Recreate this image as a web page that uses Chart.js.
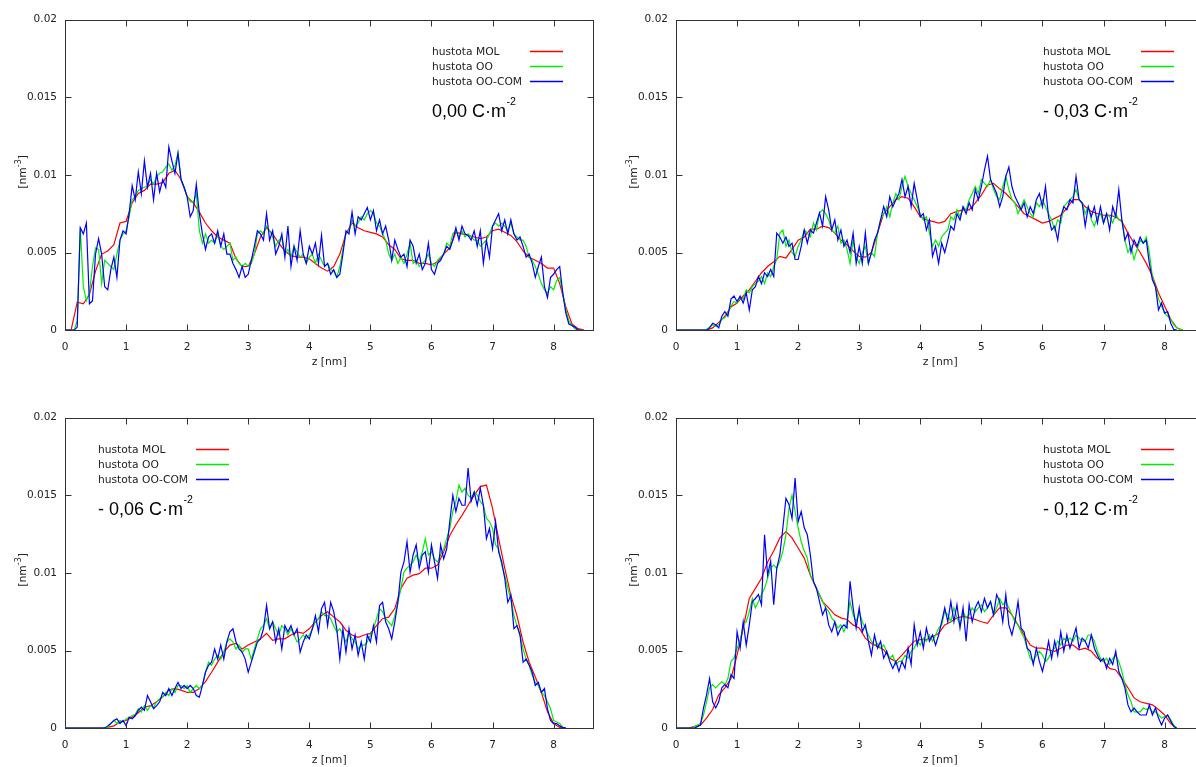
<!DOCTYPE html>
<html lang="cs">
<head>
<meta charset="utf-8">
<title>Hustota – profily podél z</title>
<script src="https://cdn.jsdelivr.net/npm/chart.js@4.4.1/dist/chart.umd.min.js"></script>
<style>
  html, body { margin: 0; padding: 0; background: #fff; overflow: hidden; }
  body { width: 1196px; height: 767px; position: relative; }
  .panel { position: absolute; width: 611px; height: 398px; }
  .panel canvas { display: block; }
</style>
</head>
<body>
<div class="panel" style="left:0;top:0"><canvas id="c000" width="611" height="398"></canvas></div>
<div class="panel" style="left:611px;top:0"><canvas id="c003" width="611" height="398"></canvas></div>
<div class="panel" style="left:0;top:398px"><canvas id="c006" width="611" height="398"></canvas></div>
<div class="panel" style="left:611px;top:398px"><canvas id="c012" width="611" height="398"></canvas></div>
<script>
// Density profiles along z, values in 10^-3 nm^-3.
// MOL profiles are sampled every 0.1 nm, OO and OO-COM every 0.05 nm, all starting at z = 0.
const MOL_STEP = 0.1;
const OO_STEP = 0.05;

const seriesNames = ['hustota MOL', 'hustota OO', 'hustota OO-COM'];
const seriesColors = ['#ff0000', '#00ee00', '#0000ff'];
const charges = ['0,00', '- 0,03', '- 0,06', '- 0,12'];
const yTickLabels = ['0', '0.005', '0.01', '0.015', '0.02'];
const zMax = 8.65;

// ---- 0,00 C·m-2 ----
const mol000 = [
  0, 0, 1.8, 1.7, 2.3, 3.8, 4.9, 5.1, 5.5, 6.9,
  7.0, 8.2, 8.8, 9.0, 9.4, 9.4, 9.5, 10.1, 10.3, 9.7,
  8.6, 8.2, 7.6, 6.9, 6.4, 6.0, 5.8, 5.6, 4.6, 4.1,
  4.1, 4.9, 6.0, 6.6, 6.2, 5.6, 5.1, 4.8, 4.7, 4.7,
  4.6, 4.3, 4.0, 3.8, 4.1, 4.9, 6.2, 6.9, 6.6, 6.4,
  6.3, 6.2, 6.0, 5.5, 5.2, 4.6, 4.5, 4.5, 4.3, 4.3,
  4.2, 4.4, 4.9, 5.3, 6.3, 6.2, 6.1, 6.0, 5.9, 6.0,
  6.4, 6.5, 6.3, 6.1, 5.7, 5.1, 4.7, 4.5, 4.3, 4.0,
  4.0, 3.0, 1.5, 0.4, 0.1, 0
];
const oo000 = [
  0, 0, 0, 0, 0.6, 6.6, 2.8, 1.9, 2.4, 4.1, 5.3, 5.2, 3.0, 4.5, 4.3, 4.1, 3.9, 4.9, 5.8, 6.2,
  6.4, 7.3, 8.4, 8.6, 9.0, 9.1, 9.2, 9.3, 9.7, 9.4, 9.9, 10.1, 10.2, 10.5, 10.7, 10.3, 10.6, 11.4, 9.7, 9.2,
  8.6, 8.3, 8.2, 8.8, 6.4, 5.6, 6.2, 5.6, 5.8, 5.6, 6.2, 5.4, 5.2, 5.4, 5.6, 4.5, 4.7, 4.3, 4.1, 4.3,
  4.1, 4.3, 4.9, 6.2, 6.4, 6.2, 6.7, 6.4, 6.0, 5.4, 5.8, 5.9, 4.9, 5.2, 4.7, 5.4, 5.0, 4.7, 4.9, 4.3,
  4.7, 4.9, 4.3, 4.9, 4.5, 4.1, 4.3, 3.9, 3.8, 3.4, 4.1, 5.2, 6.2, 6.4, 7.1, 6.7, 6.9, 7.3, 7.1, 7.5,
  7.7, 7.5, 6.9, 6.7, 6.2, 5.8, 4.9, 4.5, 4.9, 4.3, 4.7, 4.3, 4.9, 5.6, 4.3, 4.5, 4.1, 4.3, 4.5, 4.9,
  4.3, 4.1, 4.5, 4.7, 4.9, 5.6, 5.4, 6.2, 6.4, 6.0, 6.4, 6.0, 6.2, 6.0, 5.8, 5.8, 5.4, 5.6, 5.8, 6.2,
  6.7, 6.9, 6.7, 6.9, 6.7, 6.4, 6.9, 6.2, 6.0, 5.8, 5.8, 5.4, 4.7, 4.5, 4.1, 3.6, 3.0, 2.6, 2.4, 2.8,
  2.6, 3.2, 3.4, 2.4, 1.3, 0.6, 0.3, 0.1, 0, 0
];
const com000 = [
  0, 0, 0, 0, 0.2, 6.6, 6.2, 6.9, 1.7, 1.9, 4.9, 5.9, 4.9, 2.8, 2.6, 3.9, 4.7, 3.4, 5.8, 6.4,
  6.2, 7.5, 9.3, 8.4, 10.2, 8.8, 10.9, 9.2, 10.1, 8.4, 10.1, 8.9, 9.7, 9.2, 11.8, 10.9, 10.1, 11.4, 9.7, 9.2,
  8.6, 7.3, 7.7, 9.4, 7.5, 6.2, 5.2, 6.0, 6.2, 5.6, 6.4, 5.4, 6.2, 4.9, 4.9, 4.3, 3.9, 3.4, 4.1, 3.4,
  3.6, 4.5, 5.4, 6.4, 6.2, 5.8, 7.5, 5.8, 6.4, 4.9, 5.4, 6.2, 4.7, 6.7, 4.1, 5.4, 4.5, 6.4, 4.9, 4.3,
  5.4, 4.9, 5.6, 4.3, 6.1, 4.1, 4.3, 3.6, 3.9, 3.4, 3.6, 4.9, 6.4, 6.2, 7.6, 6.2, 7.3, 7.1, 7.5, 7.9,
  7.1, 7.7, 6.4, 7.1, 6.2, 6.7, 5.8, 4.5, 5.8, 5.2, 4.7, 4.9, 4.1, 5.8, 5.4, 4.3, 4.9, 3.9, 4.3, 5.6,
  3.9, 3.6, 4.3, 4.5, 4.9, 5.4, 5.2, 5.8, 6.6, 5.8, 6.7, 6.2, 6.1, 5.8, 6.4, 5.4, 6.4, 4.3, 5.8, 4.7,
  6.7, 7.1, 7.5, 6.4, 7.1, 6.2, 7.1, 6.2, 5.8, 6.0, 5.4, 4.7, 4.9, 4.3, 3.4, 4.1, 4.7, 2.8, 2.1, 3.4,
  3.6, 3.9, 4.1, 2.4, 1.1, 0.4, 0.3, 0.2, 0, 0
];

// ---- -0,03 C·m-2 ----
const mol003 = [
  0, 0, 0, 0, 0, 0, 0.15, 0.5, 0.9, 1.5,
  1.75, 2.2, 2.6, 3.15, 3.7, 4.1, 4.4, 4.75, 4.65, 5.2,
  5.8, 6.0, 6.5, 6.5, 6.7, 6.6, 6.25, 5.8, 5.5, 5.1,
  4.75, 4.7, 5.0, 6.25, 7.5, 7.95, 8.4, 8.6, 8.5, 7.95,
  7.3, 7.1, 7.0, 6.9, 7.0, 7.5, 7.65, 7.75, 7.75, 8.2,
  8.7, 9.35, 9.45, 9.1, 8.8, 8.4, 7.95, 7.5, 7.3, 7.1,
  6.9, 7.0, 7.2, 7.4, 7.85, 8.4, 8.4, 7.95, 7.65, 7.5,
  7.4, 7.4, 7.3, 7.0, 6.25, 5.6, 5.0, 4.3, 3.5, 2.4,
  1.55, 0.7, 0.15, 0
];
const oo003 = [
  0, 0, 0, 0, 0, 0, 0, 0, 0, 0, 0.05, 0.2, 0.35, 0.25, 0.35, 0.7, 0.8, 1.1, 1.55, 1.85,
  1.75, 2.1, 2.0, 2.6, 2.4, 2.8, 3.0, 3.15, 3.45, 3.0, 3.7, 3.45, 4.1, 4.55, 6.25, 6.45, 5.4, 5.8, 5.0, 4.75,
  5.4, 5.8, 6.45, 6.25, 6.0, 6.9, 6.45, 7.55, 7.75, 7.5, 7.1, 6.45, 6.25, 6.7, 5.6, 5.8, 5.2, 4.3, 5.8, 4.75,
  4.3, 5.0, 5.4, 4.3, 5.0, 4.75, 6.25, 7.1, 7.5, 7.95, 7.3, 8.2, 8.8, 8.4, 9.25, 9.9, 9.25, 8.8, 8.4, 7.95,
  7.5, 7.1, 7.3, 6.25, 5.4, 5.8, 5.4, 6.0, 6.25, 6.45, 7.3, 7.1, 7.75, 7.3, 7.95, 7.75, 8.4, 8.8, 9.25, 8.8,
  9.7, 9.45, 9.25, 9.7, 9.05, 8.6, 8.4, 9.25, 9.9, 9.05, 8.4, 8.2, 7.5, 7.95, 8.4, 7.95, 7.5, 7.3, 8.2, 7.95,
  8.4, 7.95, 7.5, 7.1, 6.45, 7.1, 6.9, 7.95, 8.2, 8.4, 8.6, 9.05, 8.4, 8.2, 7.5, 7.95, 7.1, 6.7, 7.3, 7.5,
  6.9, 7.5, 7.3, 6.9, 7.5, 7.1, 7.1, 5.8, 5.0, 5.4, 4.55, 5.2, 5.8, 5.6, 6.0, 5.0, 3.45, 2.8, 2.0, 1.55,
  1.1, 0.9, 0.7, 0.35, 0.15, 0.05, 0
];
const com003 = [
  0, 0, 0, 0, 0, 0, 0, 0, 0, 0, 0, 0.15, 0.45, 0.35, 0.15, 0.9, 1.2, 0.9, 2.0, 2.2,
  1.85, 2.2, 1.75, 2.4, 1.3, 2.6, 2.8, 3.45, 3.0, 3.7, 3.45, 3.9, 3.45, 6.25, 6.0, 5.6, 6.0, 5.4, 5.6, 4.55,
  4.55, 5.4, 6.45, 5.6, 6.45, 6.25, 6.9, 7.55, 6.7, 8.6, 7.75, 6.45, 7.1, 5.8, 6.45, 5.4, 5.8, 5.0, 6.25, 4.3,
  5.4, 4.3, 6.25, 4.3, 5.0, 5.8, 6.25, 7.1, 7.95, 7.3, 8.6, 7.95, 8.4, 8.8, 9.7, 8.6, 9.25, 7.95, 9.45, 8.4,
  7.3, 7.5, 6.45, 7.1, 4.75, 5.4, 4.3, 5.6, 5.0, 5.8, 6.7, 6.45, 7.5, 7.1, 7.95, 7.5, 8.2, 7.75, 9.05, 8.4,
  9.25, 10.3, 11.2, 9.7, 9.25, 8.8, 7.95, 8.6, 9.9, 10.5, 9.25, 8.6, 8.2, 7.75, 8.2, 7.3, 7.95, 7.5, 8.4, 8.8,
  7.95, 9.25, 7.3, 6.45, 6.7, 5.8, 7.3, 7.95, 7.75, 8.4, 8.2, 9.9, 8.4, 8.2, 6.7, 7.95, 7.3, 7.95, 6.9, 7.95,
  6.9, 7.5, 6.45, 7.95, 7.3, 9.05, 7.1, 5.8, 6.25, 5.0, 5.8, 5.4, 6.0, 5.6, 5.8, 4.3, 3.25, 2.8, 1.3, 1.75,
  1.1, 1.2, 0.45, 0.05, 0
];

// ---- -0,06 C·m-2 ----
const mol006 = [
  0, 0, 0, 0, 0, 0, 0, 0.05, 0.15, 0.4,
  0.5, 0.7, 1.0, 1.35, 1.45, 1.7, 2.0, 2.45, 2.55, 2.45,
  2.3, 2.3, 2.55, 3.0, 3.6, 4.25, 4.9, 5.35, 5.45, 5.1,
  5.35, 5.55, 5.75, 6.1, 5.65, 5.75, 5.75, 6.0, 6.2, 6.1,
  6.4, 6.85, 7.25, 7.5, 7.15, 6.85, 6.3, 6.0, 5.85, 6.0,
  6.1, 6.6, 7.05, 7.15, 7.7, 9.0, 9.65, 9.85, 9.95, 10.3,
  10.3, 10.5, 11.35, 12.4, 13.1, 13.7, 14.35, 15.0, 15.55, 15.65,
  14.15, 12.2, 10.3, 8.55, 7.25, 5.55, 4.25, 3.3, 2.3, 1.05,
  0.3, 0.05, 0
];
const oo006 = [
  0, 0, 0, 0, 0, 0, 0, 0, 0, 0, 0, 0, 0, 0, 0.05, 0.3, 0.5, 0.3, 0.5, 0.4,
  0.6, 0.7, 0.8, 0.9, 1.25, 1.05, 1.45, 1.15, 1.45, 1.35, 1.7, 1.9, 2.0, 2.3, 2.1, 2.55, 2.3, 2.75, 2.75, 2.55,
  2.75, 2.3, 2.55, 2.75, 2.55, 2.75, 3.6, 4.25, 4.05, 4.45, 4.7, 4.45, 4.9, 5.55, 5.75, 5.55, 5.1, 5.35, 4.9, 5.1,
  5.1, 4.45, 5.1, 5.75, 6.4, 6.6, 7.05, 6.4, 6.85, 6.4, 6.0, 6.6, 6.4, 6.0, 6.4, 6.0, 5.55, 5.75, 6.0, 5.75,
  6.0, 6.4, 6.85, 7.05, 7.5, 7.25, 7.25, 7.05, 6.6, 6.2, 6.4, 6.0, 5.55, 6.2, 5.75, 5.55, 5.1, 5.35, 5.35, 5.55,
  6.0, 6.4, 7.05, 7.7, 7.5, 7.05, 6.85, 6.6, 7.25, 8.1, 9.0, 10.05, 10.3, 10.5, 10.7, 11.15, 10.7, 11.35, 12.2, 11.15,
  11.35, 10.9, 10.7, 11.15, 11.55, 12.2, 12.85, 13.95, 14.6, 15.65, 15.2, 15.45, 15.0, 14.8, 15.2, 15.0, 14.6, 14.35, 13.5, 13.3,
  12.85, 11.8, 11.55, 10.5, 9.85, 9.0, 8.3, 7.25, 6.6, 6.0, 5.1, 4.45, 4.05, 3.4, 2.95, 2.75, 2.3, 2.1, 1.7, 1.25,
  0.5, 0.4, 0.3, 0.05, 0
];
const com006 = [
  0, 0, 0, 0, 0, 0, 0, 0, 0, 0, 0, 0, 0, 0, 0.15, 0.3, 0.5, 0.6, 0.3, 0.5,
  0.15, 0.7, 0.6, 0.8, 1.15, 1.35, 1.15, 2.1, 1.7, 1.25, 1.45, 1.7, 2.3, 2.1, 2.55, 2.1, 2.55, 2.95, 2.55, 2.75,
  2.55, 2.75, 2.55, 2.1, 2.0, 2.75, 3.6, 4.05, 4.25, 5.1, 4.45, 5.35, 4.45, 5.55, 6.2, 6.4, 5.55, 5.1, 4.9, 4.45,
  3.6, 4.25, 4.9, 5.55, 5.75, 6.4, 7.9, 6.4, 6.85, 5.55, 6.4, 5.1, 6.6, 6.2, 6.6, 6.0, 6.4, 4.9, 5.55, 6.0,
  5.75, 6.4, 7.25, 6.2, 7.7, 8.1, 6.6, 8.1, 7.5, 6.4, 4.45, 6.4, 4.9, 6.4, 5.1, 6.0, 4.7, 5.55, 4.45, 6.0,
  5.55, 6.6, 5.55, 7.9, 8.1, 6.85, 6.4, 5.75, 6.85, 8.1, 10.05, 10.7, 12.0, 10.05, 11.15, 11.8, 10.3, 11.15, 11.35, 10.05,
  11.8, 10.7, 9.65, 11.8, 10.9, 11.55, 13.3, 15.0, 13.95, 14.8, 14.35, 14.35, 16.75, 14.6, 15.2, 14.35, 15.45, 14.35, 12.2, 12.85,
  11.55, 13.3, 11.35, 10.7, 9.65, 8.1, 8.55, 6.4, 6.6, 6.0, 4.25, 4.45, 4.05, 3.6, 2.75, 2.95, 2.3, 2.55, 1.25, 0.5,
  0.3, 0.3, 0.15, 0.05, 0
];

// ---- -0,12 C·m-2 ----
const mol012 = [
  0, 0, 0, 0.1, 0.2, 0.65, 1.2, 2.15, 2.6, 3.2,
  4.7, 6.45, 8.35, 9.0, 9.65, 10.7, 11.4, 12.25, 12.65, 12.25,
  11.6, 10.95, 9.85, 9.0, 8.15, 7.75, 7.3, 7.1, 7.0, 6.65,
  6.45, 5.8, 5.45, 5.25, 5.05, 4.5, 4.3, 4.7, 5.15, 5.6,
  5.7, 5.7, 5.9, 6.1, 6.65, 6.85, 7.1, 7.2, 7.1, 7.0,
  6.85, 6.75, 7.3, 7.75, 7.75, 7.3, 6.65, 6.0, 5.35, 5.15,
  5.15, 5.05, 4.95, 5.15, 5.35, 5.35, 5.05, 5.15, 4.95, 4.5,
  4.3, 3.85, 3.75, 3.2, 2.6, 1.95, 1.7, 1.6, 1.5, 1.2,
  0.85, 0.3, 0
];
const oo012 = [
  0, 0, 0, 0, 0, 0, 0.1, 0.2, 0.3, 0.85, 1.7, 2.6, 2.8, 2.6, 2.8, 3.0, 2.8, 3.2, 4.3, 4.5,
  5.15, 5.6, 6.65, 6.85, 7.5, 8.35, 7.75, 8.15, 8.6, 9.0, 9.65, 10.3, 10.5, 10.3, 10.75, 11.4, 12.45, 14.15, 15.0, 13.95,
  12.9, 12.0, 11.4, 10.95, 9.85, 9.45, 9.0, 8.6, 8.15, 7.75, 7.5, 7.1, 6.85, 6.45, 6.65, 6.2, 6.85, 8.15, 7.3, 6.85,
  7.5, 6.85, 6.45, 6.0, 5.6, 5.35, 5.45, 5.15, 5.35, 4.95, 4.5, 4.7, 4.1, 4.3, 4.3, 4.7, 4.5, 4.95, 5.15, 5.6,
  5.35, 5.8, 5.6, 6.0, 5.6, 6.0, 6.45, 6.65, 7.5, 7.3, 6.85, 7.75, 7.1, 6.65, 7.5, 7.1, 7.3, 7.75, 7.5, 7.75,
  7.95, 7.5, 7.75, 8.15, 7.3, 7.75, 8.35, 7.95, 8.15, 7.75, 7.3, 6.85, 6.65, 6.2, 5.8, 5.15, 4.5, 4.3, 4.7, 4.95,
  4.7, 4.3, 4.5, 4.95, 5.15, 5.6, 5.35, 5.8, 5.6, 5.8, 5.6, 6.0, 5.8, 5.6, 5.6, 6.0, 6.0, 5.6, 4.95, 4.5,
  4.3, 4.5, 4.1, 4.5, 4.7, 4.3, 3.65, 2.8, 2.15, 1.7, 1.05, 1.05, 1.05, 1.3, 1.2, 1.3, 1.05, 1.05, 0.85, 0.65,
  0.75, 0.85, 0.55, 0.2, 0
];
const com012 = [
  0, 0, 0, 0, 0, 0, 0, 0.1, 0.2, 1.3, 2.15, 3.2, 1.7, 1.3, 1.7, 2.6, 2.8, 2.6, 3.45, 3.2,
  6.2, 5.15, 6.85, 5.35, 6.65, 8.15, 8.35, 8.6, 7.95, 12.45, 9.85, 10.75, 7.95, 10.3, 11.15, 12.9, 14.8, 14.4, 13.5, 16.1,
  13.3, 13.95, 12.9, 12.45, 11.15, 9.45, 9.0, 8.15, 7.3, 7.75, 6.65, 6.2, 6.85, 6.0, 6.45, 6.65, 6.45, 9.45, 7.75, 6.45,
  7.75, 6.2, 6.65, 5.6, 4.7, 6.0, 5.15, 5.6, 4.5, 4.95, 4.3, 3.85, 4.3, 3.65, 4.3, 3.85, 5.15, 4.1, 6.65, 5.35,
  6.2, 5.15, 6.45, 5.6, 6.0, 5.35, 6.0, 6.85, 7.75, 6.85, 8.15, 6.85, 7.95, 6.45, 7.75, 5.6, 7.95, 6.85, 7.75, 8.15,
  7.5, 8.35, 7.75, 8.15, 7.3, 8.6, 8.15, 6.85, 8.6, 6.65, 6.0, 6.85, 8.15, 6.45, 6.2, 5.15, 4.95, 4.1, 5.15, 4.3,
  3.65, 4.5, 5.6, 4.5, 5.6, 4.7, 6.2, 4.95, 6.0, 5.15, 5.8, 6.45, 5.15, 5.8, 5.6, 5.15, 6.0, 5.15, 4.7, 4.3,
  4.5, 3.85, 4.5, 4.1, 4.95, 3.65, 3.2, 2.6, 1.5, 1.05, 1.3, 1.05, 0.85, 0.85, 0.85, 1.5, 0.85, 1.3, 0.65, 0.2,
  0.65, 0.85, 0.45, 0.1, 0
];

// ---------------------------------------------------------------------------
const TEXT_FONT = '"DejaVu Sans", Verdana, sans-serif';
const LABEL_FONT = '"Liberation Sans", Arial, sans-serif';
Chart.defaults.font.family = TEXT_FONT;

// evenly sampled profile -> {x: z [nm], y: density [nm^-3]}
function profile(values, step) {
  return values.map((v, i) => ({ x: Math.round(i * step * 100) / 100, y: v / 1000 }));
}

// gnuplot-like frame with inward ticks, in-plot key, charge label and axis titles
const gnuFrame = {
  id: 'gnuFrame',
  afterDatasetsDraw(chart) {
    const { ctx, chartArea: a, scales: { x, y } } = chart;
    ctx.save();
    ctx.strokeStyle = '#333';
    ctx.lineWidth = 1;
    const l = Math.round(a.left) + 0.5, r = Math.round(a.right) + 0.5;
    const t = Math.round(a.top) + 0.5, b = Math.round(a.bottom) + 0.5;
    ctx.strokeRect(l, t, r - l, b - t);
    const L = 6;
    ctx.beginPath();
    x.ticks.forEach(tk => {
      const px = Math.round(x.getPixelForValue(tk.value)) + 0.5;
      ctx.moveTo(px, b); ctx.lineTo(px, b - L);
      ctx.moveTo(px, t); ctx.lineTo(px, t + L);
    });
    y.ticks.forEach(tk => {
      const py = Math.round(y.getPixelForValue(tk.value)) + 0.5;
      ctx.moveTo(l, py); ctx.lineTo(l + L, py);
      ctx.moveTo(r, py); ctx.lineTo(r - L, py);
    });
    ctx.stroke();
    ctx.restore();
  },
  afterDraw(chart, args, opts) {
    const { ctx, chartArea: a } = chart;
    ctx.save();

    // key
    const lx = a.left + opts.keyLeft;
    ctx.font = '10.7px ' + TEXT_FONT;
    ctx.textAlign = 'left';
    ctx.textBaseline = 'middle';
    seriesNames.forEach((name, i) => {
      const yy = Math.round(a.top + 32.5 + 15 * i);
      ctx.fillStyle = '#222';
      ctx.fillText(name, lx, yy);
      ctx.strokeStyle = seriesColors[i];
      ctx.lineWidth = 1.4;
      ctx.beginPath();
      ctx.moveTo(Math.round(lx + 98), yy - 0.5);
      ctx.lineTo(Math.round(lx + 131), yy - 0.5);
      ctx.stroke();
    });

    // surface charge label
    const base = a.top + 97.5;
    const main = opts.charge + ' C\u00b7m';
    ctx.fillStyle = '#000';
    ctx.textBaseline = 'alphabetic';
    ctx.font = '18px ' + LABEL_FONT;
    ctx.fillText(main, lx, base);
    const w = ctx.measureText(main).width;
    ctx.font = '10.5px ' + LABEL_FONT;
    ctx.fillText('-2', lx + w + 0.5, base - 12);

    // x title
    ctx.fillStyle = '#222';
    ctx.font = '10.8px ' + TEXT_FONT;
    ctx.textAlign = 'center';
    ctx.textBaseline = 'middle';
    ctx.fillText('z [nm]', (a.left + a.right) / 2, a.bottom + 31.5);

    // y title with superscript, rotated
    const cy = (a.top + a.bottom) / 2 - 3;
    ctx.translate(25.5, cy);
    ctx.rotate(-Math.PI / 2);
    ctx.textAlign = 'left';
    ctx.textBaseline = 'alphabetic';
    const f = '10.8px ' + TEXT_FONT, fs = '8px ' + TEXT_FONT;
    ctx.font = f; const w1 = ctx.measureText('[nm').width; const w3 = ctx.measureText(']').width;
    ctx.font = fs; const w2 = ctx.measureText('-3').width;
    let u = -(w1 + w2 + w3) / 2;
    ctx.font = f; ctx.fillText('[nm', u, 0); u += w1;
    ctx.font = fs; ctx.fillText('-3', u, -5); u += w2;
    ctx.font = f; ctx.fillText(']', u, 0);

    ctx.restore();
  }
};

function densityChart(id, mol, oo, com, charge, keyLeft) {
  return new Chart(document.getElementById(id), {
    type: 'line',
    data: {
      datasets: [
        { label: seriesNames[0], data: profile(mol, MOL_STEP), borderColor: seriesColors[0], order: 3 },
        { label: seriesNames[1], data: profile(oo, OO_STEP), borderColor: seriesColors[1], order: 2 },
        { label: seriesNames[2], data: profile(com, OO_STEP), borderColor: seriesColors[2], order: 1 }
      ]
    },
    options: {
      responsive: false,
      animation: false,
      devicePixelRatio: 1,
      events: [],
      elements: {
        line: { borderWidth: 1.2, tension: 0, fill: false },
        point: { radius: 0 }
      },
      layout: { padding: { left: 0, top: 19.5, right: 17.7, bottom: 0 } },
      plugins: {
        legend: { display: false },
        tooltip: { enabled: false },
        gnuFrame: { charge, keyLeft }
      },
      scales: {
        x: {
          type: 'linear', min: 0, max: zMax,
          afterFit(s) { s.height = 67.8; },
          grid: { display: false, drawTicks: false },
          border: { display: false },
          ticks: {
            stepSize: 1, includeBounds: false, autoSkip: false, maxRotation: 0,
            padding: 11, color: '#222', font: { size: 10.5 }
          }
        },
        y: {
          type: 'linear', min: 0, max: 0.02,
          afterFit(s) { s.width = 65; },
          grid: { display: false, drawTicks: false },
          border: { display: false },
          ticks: {
            stepSize: 0.005, includeBounds: false, padding: 8, color: '#222', font: { size: 10.5 },
            callback: (v, i) => yTickLabels[i]
          }
        }
      }
    },
    plugins: [gnuFrame]
  });
}

densityChart('c000', mol000, oo000, com000, charges[0], 367);
densityChart('c003', mol003, oo003, com003, charges[1], 367);
densityChart('c006', mol006, oo006, com006, charges[2], 33);
densityChart('c012', mol012, oo012, com012, charges[3], 367);
</script>
</body>
</html>
